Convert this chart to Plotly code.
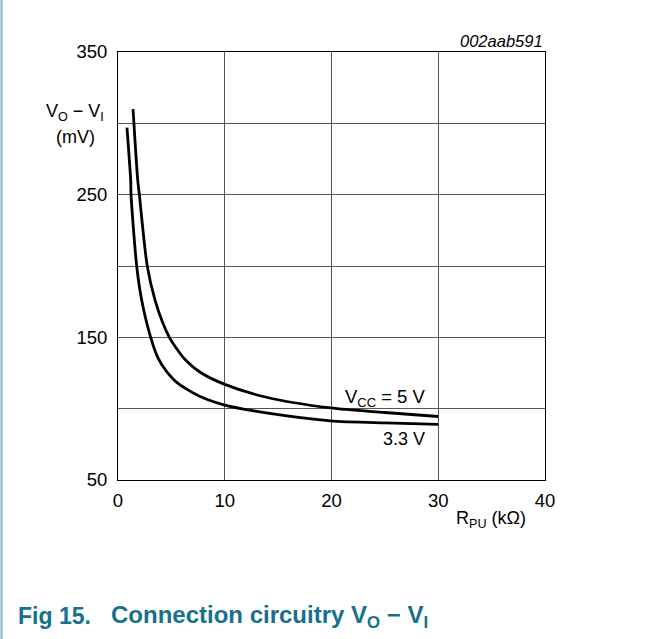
import plotly.graph_objects as go

# Data
r_pu_5v = [1.41, 1.85, 2.0, 2.74, 3.47, 4.2, 4.81, 5.5, 6.28, 7.7, 10.0, 13.9, 19.9, 25.0, 30.0]
v_5v = [310, 260, 250, 200, 176, 160, 150, 142, 134.5, 125.5, 117, 108, 100.5, 97.3, 94.5]

r_pu_33v = [0.84, 1.19, 1.22, 1.75, 2.22, 3.06, 3.78, 4.56, 5.65, 7.7, 10.0, 13.9, 19.9, 25.0, 30.0]
v_33v = [297, 260, 250, 200, 176, 150, 135, 126, 117.5, 108.5, 102.5, 97, 91.5, 90, 89]

x_ticks = [0, 10, 20, 30, 40]
y_ticks = [50, 150, 250, 350]

FONT = "Liberation Sans, Arial, sans-serif"

# plot area in pixels
L, R, T, B = 118, 545, 52, 480
W, H = 660, 639


def px(x):
    return (x - L) / (R - L)


def py(y):
    return (B - y) / (B - T)


fig = go.Figure()
fig.add_trace(go.Scatter(x=r_pu_5v, y=v_5v, mode="lines",
                         line=dict(color="black", width=2.8, shape="spline", smoothing=0.8),
                         showlegend=False, hoverinfo="skip"))
fig.add_trace(go.Scatter(x=r_pu_33v, y=v_33v, mode="lines",
                         line=dict(color="black", width=2.8, shape="spline", smoothing=0.7),
                         showlegend=False, hoverinfo="skip"))

grid = "#555555"
tick_font = dict(family=FONT, size=18.5, color="black")
fig.update_xaxes(range=[0, 40], tickvals=x_ticks, ticktext=[str(v) for v in x_ticks],
                 showgrid=True, gridcolor=grid, gridwidth=1, zeroline=False,
                 showline=True, mirror=True, linecolor="black", linewidth=1,
                 ticks="", ticklabelstandoff=4, tickfont=tick_font)
fig.update_yaxes(range=[50, 350], tickvals=y_ticks, ticktext=[str(v) for v in y_ticks],
                 showgrid=True, gridcolor=grid, gridwidth=1, zeroline=False,
                 showline=True, mirror=True, linecolor="black", linewidth=1,
                 ticks="", ticklabelstandoff=6,
                 minor=dict(tick0=50, dtick=50, showgrid=True, gridcolor=grid, gridwidth=1),
                 tickfont=tick_font)

ann_font = dict(family=FONT, size=18, color="black")
cap_color = "#17708e"
annotations = [
    dict(x=px(75), y=py(112), text="V<sub>O</sub> − V<sub>I</sub>", showarrow=False,
         xanchor="center", yanchor="middle", font=ann_font),
    dict(x=px(75), y=py(137), text="(mV)", showarrow=False,
         xanchor="center", yanchor="middle", font=ann_font),
    dict(x=px(491), y=py(519), text="R<sub>PU</sub> (kΩ)", showarrow=False,
         xanchor="center", yanchor="middle", font=ann_font),
    dict(x=px(545), y=py(41), text="<i>002aab591</i>", showarrow=False,
         xanchor="right", yanchor="middle",
         font=dict(family=FONT, size=16.5, color="black")),
    dict(x=px(428), y=py(398), text="V<sub>CC</sub> = 5 V", showarrow=False,
         xanchor="right", yanchor="middle", font=dict(family=FONT, size=18.5, color="black")),
    dict(x=px(427), y=py(439), text="3.3 V", showarrow=False,
         xanchor="right", yanchor="middle", font=ann_font),
    dict(x=px(16), y=py(616), text="<b>Fig 15.</b>", showarrow=False,
         xanchor="left", yanchor="middle", font=dict(family=FONT, size=23, color=cap_color)),
    dict(x=px(109), y=py(616), text="<b>Connection circuitry V<sub>O</sub> − V<sub>I</sub></b>",
         showarrow=False, xanchor="left", yanchor="middle",
         font=dict(family=FONT, size=24, color=cap_color)),
]
for a in annotations:
    a["xref"] = "paper"
    a["yref"] = "paper"

shapes = [
    # blue page rule on the left edge
    dict(type="line", xref="paper", yref="paper",
         x0=px(1.5), x1=px(1.5), y0=py(H), y1=py(0),
         line=dict(color="#7db6ca", width=2)),
    # white mask behind the "VCC = 5 V" label, over the grid but under the curves
    dict(type="rect", xref="paper", yref="paper", layer="between",
         x0=px(331), x1=px(428), y0=py(411), y1=py(404),
         fillcolor="white", line=dict(width=0)),
]

fig.update_layout(
    width=W, height=H,
    margin=dict(l=L, r=W - R, t=T, b=H - B),
    paper_bgcolor="white", plot_bgcolor="white",
    annotations=annotations,
    shapes=shapes,
    font=dict(family=FONT),
)

fig.write_html("out.html", config={"displayModeBar": False},
               post_script="document.body.style.margin='0px';")
